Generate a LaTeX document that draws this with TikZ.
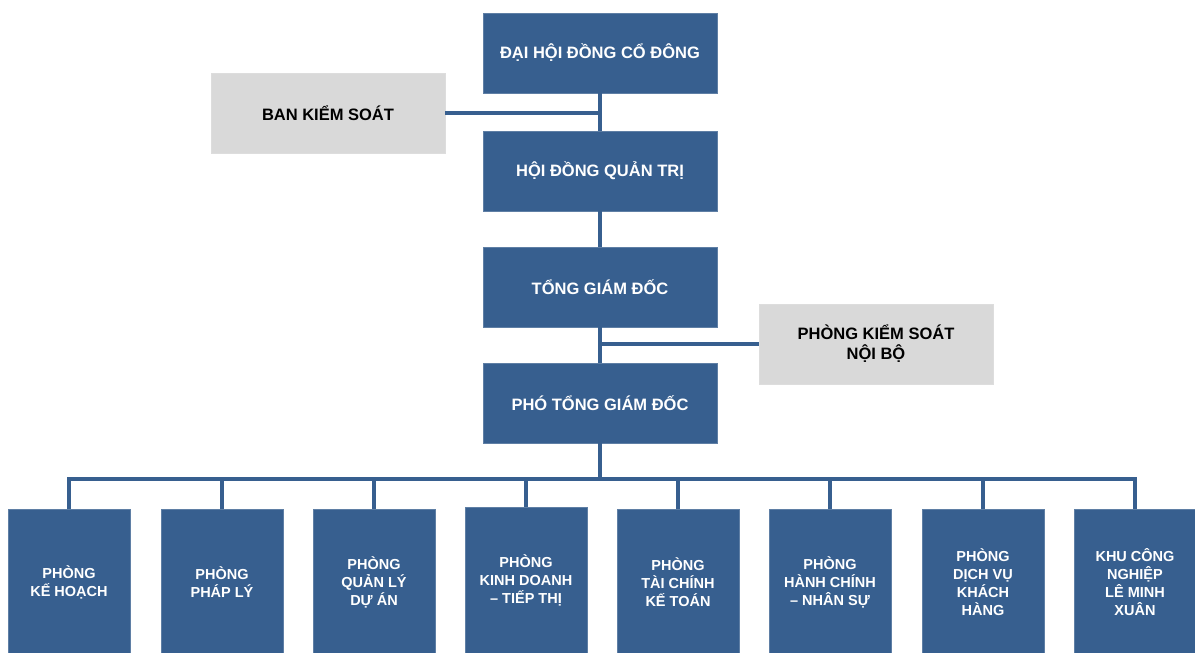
\documentclass[tikz,border=0pt]{standalone}
\usepackage{fontspec}
\setmainfont{Liberation Sans}
\definecolor{boxblue}{RGB}{55,95,143}
\definecolor{boxgray}{RGB}{217,217,217}
\begin{document}
\begin{tikzpicture}[x=1pt,y=-1pt,
  bluebox/.style={rectangle,fill=boxblue,draw=boxblue!80!white,line width=0.6pt,text=white,font=\bfseries\fontsize{16.5}{20}\selectfont,align=center,inner sep=0pt},
  graybox/.style={rectangle,fill=boxgray,draw=boxgray!90!white,line width=0.6pt,text=black,font=\bfseries\fontsize{16.5}{20}\selectfont,align=center,inner sep=0pt},
  top/.style={minimum width=234pt,minimum height=80pt},
  dept/.style={minimum width=122pt,minimum height=146pt,font=\bfseries\fontsize{14.5}{18}\selectfont},
  conn/.style={draw=boxblue,line width=3.5pt}]
\useasboundingbox (0,0) rectangle (1195,653);
\node[bluebox,top] (dhdcd) at (600,53) {ĐẠI HỘI ĐỒNG CỔ ĐÔNG};
\node[graybox,top] (bks) at (328,113) {BAN KIỂM SOÁT};
\node[bluebox,top] (hdqt) at (600,171) {HỘI ĐỒNG QUẢN TRỊ};
\node[bluebox,top] (tgd) at (600,287) {TỔNG GIÁM ĐỐC};
\node[graybox,top] (pksnb) at (876,344) {PHÒNG KIỂM SOÁT\\NỘI BỘ};
\node[bluebox,top] (ptgd) at (600,403) {PHÓ TỔNG GIÁM ĐỐC};
\coordinate (bus) at (600,479);
\node[bluebox,dept,anchor=north] (d1) at (69,509) {PHÒNG\\KẾ HOẠCH};
\node[bluebox,dept,anchor=north] (d2) at (222,509) {PHÒNG\\PHÁP LÝ};
\node[bluebox,dept,anchor=north] (d3) at (374,509) {PHÒNG\\QUẢN LÝ\\DỰ ÁN};
\node[bluebox,dept,anchor=north] (d4) at (526,507) {PHÒNG\\KINH DOANH\\– TIẾP THỊ};
\node[bluebox,dept,anchor=north] (d5) at (678,509) {PHÒNG\\TÀI CHÍNH\\KẾ TOÁN};
\node[bluebox,dept,anchor=north] (d6) at (830,509) {PHÒNG\\HÀNH CHÍNH\\– NHÂN SỰ};
\node[bluebox,dept,anchor=north] (d7) at (983,509) {PHÒNG\\DỊCH VỤ\\KHÁCH\\HÀNG};
\node[bluebox,dept,anchor=north] (d8) at (1135,509) {KHU CÔNG\\NGHIỆP\\LÊ MINH\\XUÂN};
\draw[conn] (dhdcd.south) -- (hdqt.north);
\draw[conn] (bks.east) -- (bks.east -| dhdcd.south);
\draw[conn] (hdqt.south) -- (tgd.north);
\draw[conn] (tgd.south) -- (ptgd.north);
\draw[conn] (pksnb.west) -- (pksnb.west -| tgd.south);
\draw[conn] (ptgd.south) -- (bus);
\draw[conn,line cap=rect] (d1.north |- bus) -- (d8.north |- bus);
\foreach \d in {d1,d2,d3,d4,d5,d6,d7,d8} {
  \draw[conn] (\d.north |- bus) -- (\d.north);
}
\end{tikzpicture}
\end{document}
